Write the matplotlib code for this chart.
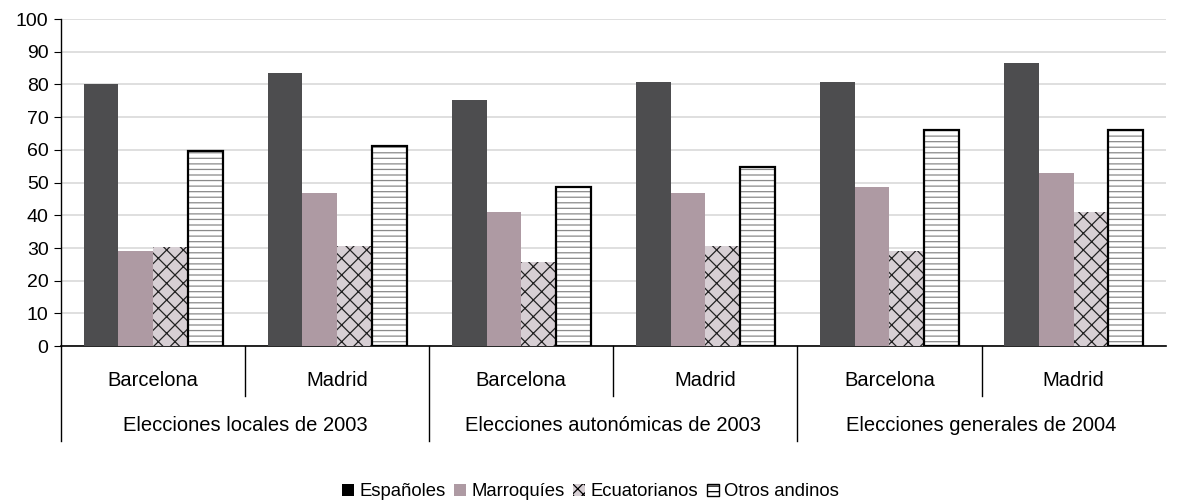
import numpy as np
import matplotlib.pyplot as plt
from matplotlib.patches import Patch

# ==========================
# DATA
# ==========================

cities = ["Barcelona", "Madrid", "Barcelona", "Madrid", "Barcelona", "Madrid"]
elections = ["Elecciones locales de 2003",
             "Elecciones autonómicas de 2003",
             "Elecciones generales de 2004"]

espanoles = [80.1, 83.5, 75.2, 80.7, 80.7, 86.5]
marroquies = [29.0, 46.8, 41.0, 46.8, 48.6, 52.9]
ecuatorianos = [30.3, 30.6, 25.7, 30.6, 29.1, 41.0]
otros_andinos = [59.6, 61.2, 48.7, 54.7, 66.1, 66.1]

series_names = ["Españoles", "Marroquíes", "Ecuatorianos", "Otros andinos"]

plt.rcParams["font.family"] = ["Liberation Sans", "DejaVu Sans"]
plt.rcParams["hatch.linewidth"] = 0.9

# ==========================
# FIGURE
# ==========================

fig = plt.figure(figsize=(11.81, 5.01), dpi=100)
ax = fig.add_axes([0.0517, 0.309, 0.9353, 0.653])

x = np.arange(len(cities))
w = 0.189

ax.bar(x - 1.5 * w, espanoles, w, color="#4d4d4f", zorder=3)
ax.bar(x - 0.5 * w, marroquies, w, color="#ae9aa3", zorder=3)
ax.bar(x + 0.5 * w, ecuatorianos, w, color="#d7cfd4", edgecolor="#222222",
       linewidth=0, hatch="xx", zorder=3)
ax.bar(x + 1.5 * w, otros_andinos, w, color="white", edgecolor="#8a8a8a",
       linewidth=0, hatch="---", zorder=3)
ax.bar(x + 1.5 * w, otros_andinos, w, fill=False, edgecolor="black",
       linewidth=1.6, zorder=4)

ax.set_xlim(-0.5, len(cities) - 0.5)
ax.set_ylim(0, 100)
ax.set_yticks(range(0, 101, 10))
ax.tick_params(axis="y", labelsize=14, length=5, direction="out", pad=4)
ax.set_xticks([])
ax.yaxis.grid(True, color="#d9d9d9", linewidth=1.2, zorder=0)
ax.set_axisbelow(True)

for s in ["top", "right"]:
    ax.spines[s].set_visible(False)
ax.spines["left"].set_linewidth(1)
ax.spines["bottom"].set_linewidth(1.2)

# ==========================
# MULTI-LEVEL CATEGORY AXIS
# ==========================

tr = ax.get_xaxis_transform()

for i, c in enumerate(cities):
    ax.text(i, -0.104, c, transform=tr, ha="center", va="center", fontsize=14.5)

for j, e in enumerate(elections):
    ax.text(2 * j + 0.5, -0.243, e, transform=tr, ha="center", va="center",
            fontsize=14.5)

for j in range(len(elections)):
    ax.plot([2 * j + 0.5, 2 * j + 0.5], [0, -0.153], transform=tr,
            color="black", linewidth=1, clip_on=False)

for b in [-0.5, 1.5, 3.5]:
    ax.plot([b, b], [0, -0.29], transform=tr,
            color="black", linewidth=1, clip_on=False)

# ==========================
# LEGEND
# ==========================

handles = [
    Patch(facecolor="#000000"),
    Patch(facecolor="#ae9aa3"),
    Patch(facecolor="#d7cfd4", edgecolor="black", linewidth=0, hatch="xxx"),
    Patch(facecolor="white", edgecolor="black", linewidth=1, hatch="---"),
]

fig.legend(handles, series_names, loc="center", bbox_to_anchor=(0.5, 0.018),
           ncol=4, frameon=False, fontsize=13.3, handlelength=0.65,
           handleheight=0.65, handletextpad=0.3, columnspacing=0.45)

plt.savefig("out.png", dpi=100)
